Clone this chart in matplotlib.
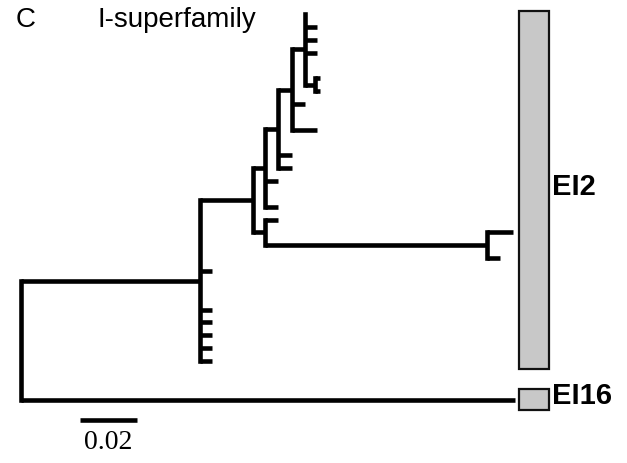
import matplotlib.pyplot as plt
from matplotlib.patches import Rectangle

# tree: internal node = {"bl": branch length, "kids": [...]}, tip = {"bl": ..., "row": ...}
def tip(bl, row):
    return {"bl": bl, "row": row}


def clade(bl, *kids):
    return {"bl": bl, "kids": list(kids)}


tree = clade(0.0,
    clade(0.0628,
        clade(0.0186,
            clade(0.0042,
                clade(0.0046,
                    clade(0.0049,
                        clade(0.0046,
                            tip(0.0, 0), tip(0.0042, 1), tip(0.0042, 2), tip(0.0042, 3),
                            clade(0.0035, tip(0.0018, 5), tip(0.0018, 6))),
                        tip(0.0046, 7), tip(0.0088, 9)),
                    tip(0.0049, 11), tip(0.0049, 12)),
                tip(0.0046, 13), tip(0.0046, 15)),
            clade(0.0042,
                tip(0.0046, 16),
                clade(0.0779, tip(0.0091, 17), tip(0.0046, 19)))),
        tip(0.0042, 20), tip(0.0042, 23), tip(0.0042, 24),
        tip(0.0042, 25), tip(0.0042, 26), tip(0.0042, 27)),
    tip(0.1733, 30))

group_names = ["EI2", "EI16"]
group_rows = [(0, 27), (30, 30)]
scale_len = 0.02

fig = plt.figure(figsize=(6.27, 4.63), dpi=100)
ax = fig.add_axes([0, 0, 1, 1])
u = 0.02 / 57
ax.set_xlim(-21 * u, 606 * u)
ax.set_ylim(34.94, -1.09)
ax.axis("off")

lw = 3.3


def draw(node, x0):
    x1 = x0 + node["bl"]
    if "row" in node:
        y = node["row"]
    else:
        ys = [draw(k, x1) for k in node["kids"]]
        y = (ys[0] + ys[-1]) / 2
        ax.plot([x1, x1], [ys[0], ys[-1]], color="black", lw=lw,
                solid_capstyle="projecting")
    if node["bl"] > 0:
        ax.plot([x0, x1], [y, y], color="black", lw=lw, solid_capstyle="butt")
    return y


draw(tree, 0.0)

# clade bars on the right
bx0, bw = 498 * u, 30 * u
for name, (r0, r1) in zip(group_names, group_rows):
    top, bot = r0 - 0.2, r1 + 0.6
    if bot - top < 1.7:
        c = (r0 + r1) / 2
        top, bot = c - 0.85, c + 0.85
    ax.add_patch(Rectangle((bx0, top), bw, bot - top, facecolor="#c8c8c8",
                           edgecolor="#111111", lw=1.6))
    ax.text(bx0 + bw + 3 * u, (top + bot) / 2 - 0.25, name, fontsize=21,
            fontweight="bold", family="Liberation Sans", va="center", ha="left")

# scale bar
sx, sy = 59 * u, 31.6
ax.plot([sx, sx + scale_len], [sy, sy], color="black", lw=3.3, solid_capstyle="butt")
ax.text(sx + scale_len / 2, sy + 0.8, f"{scale_len:.2f}", fontsize=20,
        family="Liberation Serif", ha="center", va="top")

fig.text(16 / 627, 1 - 7 / 463, "C", fontsize=20, family="Liberation Sans", va="top")
fig.text(97 / 627, 1 - 7 / 463, "I-superfamily", fontsize=20,
         family="Liberation Sans", va="top")

fig.savefig("out.png", dpi=100)
